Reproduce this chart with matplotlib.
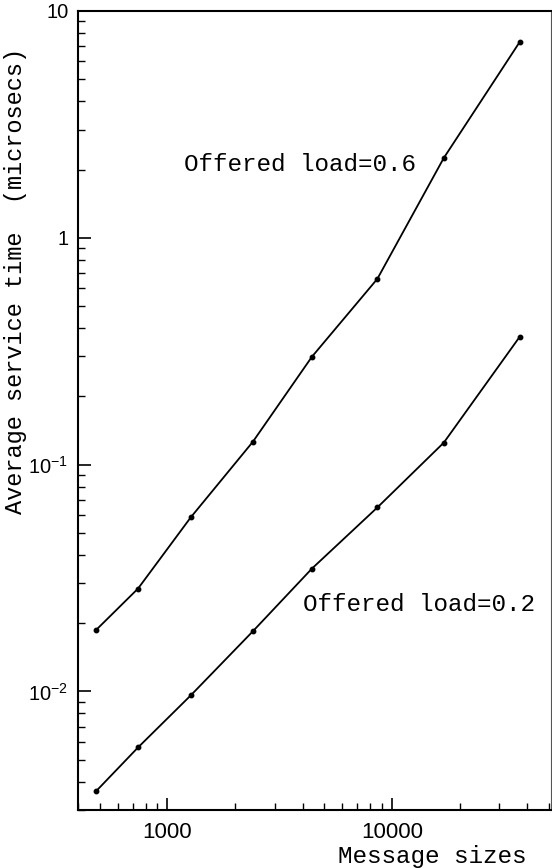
import numpy as np
import matplotlib
matplotlib.use("Agg")
import matplotlib.pyplot as plt
from matplotlib.ticker import LogLocator, FixedLocator, FixedFormatter, NullFormatter

# data
msg_sizes = [480, 740, 1270, 2400, 4400, 8600, 17000, 37000]
load_06 = [0.0186, 0.0284, 0.0585, 0.126, 0.299, 0.659, 2.25, 7.30]
load_02 = [0.00362, 0.00566, 0.0096, 0.0184, 0.0348, 0.0647, 0.125, 0.366]

y_ticks = [0.01, 0.1, 1, 10]
y_labels = [r"$\mathregular{10^{-2}}$", r"$\mathregular{10^{-1}}$", "1", "10"]
x_ticks = [1000, 10000]
x_labels = ["1000", "10000"]

mono = "Liberation Mono"
sans = "Liberation Sans"

fig = plt.figure(figsize=(5.52, 8.68), dpi=100)
ax = fig.add_axes([78 / 552, 58 / 868, 473 / 552, 799 / 868])

for ys in (load_06, load_02):
    ax.plot(msg_sizes, ys, color="black", lw=1.3, marker="o", ms=3.2)

ax.set_xscale("log")
ax.set_yscale("log")
ax.set_xlim(400, 51000)
ax.set_ylim(0.003, 10)

ax.xaxis.set_major_locator(FixedLocator(x_ticks))
ax.xaxis.set_major_formatter(FixedFormatter(x_labels))
ax.xaxis.set_minor_locator(LogLocator(base=10, subs=np.arange(2, 10)))
ax.xaxis.set_minor_formatter(NullFormatter())
ax.yaxis.set_major_locator(FixedLocator(y_ticks))
ax.yaxis.set_major_formatter(FixedFormatter(y_labels))
ax.yaxis.set_minor_locator(LogLocator(base=10, subs=np.arange(2, 10)))
ax.yaxis.set_minor_formatter(NullFormatter())

ax.tick_params(which="major", direction="in", length=9, width=1.2, labelsize=16, pad=9)
ax.tick_params(axis="y", which="major", labelsize=14.5, pad=7)
ax.tick_params(which="minor", direction="in", length=5, width=1.0)
ax.tick_params(axis="y", which="both", right=False)
ax.tick_params(axis="x", which="both", top=False)
for lbl in ax.get_xticklabels() + ax.get_yticklabels():
    lbl.set_family(sans)

for side in ("left", "bottom", "top"):
    ax.spines[side].set_linewidth(1.5)
ax.spines["right"].set_linewidth(0.8)
ax.spines["right"].set_color("#555555")

ax.text(1190, 10 ** 0.322, "Offered load=0.6", family=mono, fontsize=17.5, va="center", ha="left")
ax.text(4010, 10 ** -1.617, "Offered load=0.2", family=mono, fontsize=17.5, va="center", ha="left")

ax.set_ylabel("Average service time  (microsecs)", family=mono, fontsize=17)
ax.yaxis.set_label_coords(-0.108, 0.662)
ax.set_xlabel("Message sizes", family=mono, fontsize=17.5)
ax.xaxis.set_label_coords(0.748, -0.044)

fig.savefig("out.png", dpi=100)
